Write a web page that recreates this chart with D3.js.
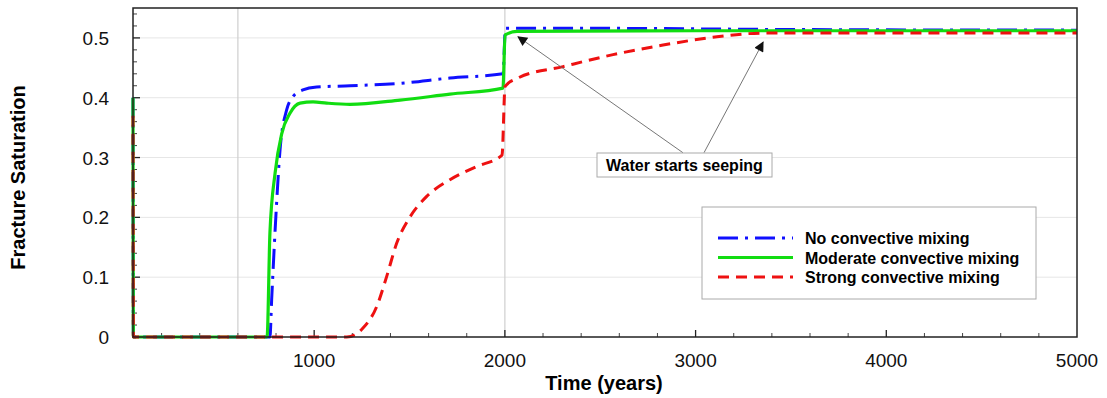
<!DOCTYPE html>
<html>
<head>
<meta charset="utf-8">
<script src="https://cdn.jsdelivr.net/npm/d3@7"></script>
<style>
  body { margin: 0; background: #fff; }
  svg { display: block; font-family: "Liberation Sans", Arial, sans-serif; }
</style>
</head>
<body>
<div id="plot"></div>
<script>
// Data: time (years) and fracture saturation
const noMixT  = [50, 52, 768, 777, 804, 821, 856, 889, 941, 1013, 1188, 1450, 1712, 1990, 2003, 2500, 3500, 5000];
const noMixS  = [0.40, 0, 0, 0.062, 0.229, 0.313, 0.38, 0.402, 0.413, 0.418, 0.42, 0.424, 0.433, 0.44, 0.516, 0.516, 0.514, 0.513];

const modMixT = [50, 52, 753, 768, 795, 830, 873, 926, 994, 1066, 1188, 1450, 1712, 1990, 2001, 2064, 3000, 5000];
const modMixS = [0.40, 0, 0, 0.174, 0.274, 0.34, 0.374, 0.391, 0.393, 0.391, 0.389, 0.396, 0.406, 0.416, 0.505, 0.511, 0.512, 0.512];

const strMixT = [50, 52, 1171, 1256, 1328, 1380, 1433, 1503, 1590, 1712, 1852, 1985, 2001, 2069, 2305, 2567, 2829, 3091, 3354, 3600, 5000];
const strMixS = [0.37, 0, 0, 0.015, 0.051, 0.101, 0.157, 0.201, 0.235, 0.263, 0.285, 0.304, 0.419, 0.433, 0.452, 0.472, 0.488, 0.501, 0.508, 0.508, 0.508];

const seriesNames = ["No convective mixing", "Moderate convective mixing", "Strong convective mixing"];
const xTickValues = [1000, 2000, 3000, 4000, 5000];
const yTickValues = [0, 0.1, 0.2, 0.3, 0.4, 0.5];
const xGridValues = [600, 2000];

// annotation: arrow tips and tails (time, saturation)
const arrowTips  = [[2069, 0.502], [3354, 0.493]];
const arrowTails = [[2934, 0.308], [3044, 0.308]];
const noteText = "Water starts seeping";

const width = 1107, height = 398;
const margin = {left: 133, top: 8, right: 30, bottom: 61};

const svg = d3.select("#plot").append("svg")
    .attr("width", width)
    .attr("height", height);

const x = d3.scaleLinear().domain([50, 5000]).range([margin.left, width - margin.right]);
const y = d3.scaleLinear().domain([0, 0.55]).range([height - margin.bottom, margin.top]);

const x0 = x.range()[0], x1 = x.range()[1], y0 = y.range()[0], y1 = y.range()[1];

// grid lines
svg.append("g").selectAll("line")
    .data(yTickValues.filter(d => d > 0))
    .join("line")
    .attr("x1", x0).attr("x2", x1)
    .attr("y1", d => y(d)).attr("y2", d => y(d))
    .attr("stroke", "#e6e6e6").attr("stroke-width", 1);

svg.append("g").selectAll("line")
    .data(xGridValues)
    .join("line")
    .attr("x1", d => x(d)).attr("x2", d => x(d))
    .attr("y1", y0).attr("y2", y1)
    .attr("stroke", "#cfcfcf").attr("stroke-width", 1.2);

// ticks (inward), major + minor
const minorX = d3.range(200, 5000, 200).filter(d => d % 1000 !== 0);
const minorY = d3.range(0.02, 0.55, 0.02).filter(d => Math.abs(d * 10 - Math.round(d * 10)) > 0.01);

svg.append("g").selectAll("line")
    .data(xTickValues.slice(0, -1))
    .join("line")
    .attr("x1", d => x(d)).attr("x2", d => x(d))
    .attr("y1", y0).attr("y2", y0 - 7)
    .attr("stroke", "#222").attr("stroke-width", 1.3);
svg.append("g").selectAll("line")
    .data(minorX)
    .join("line")
    .attr("x1", d => x(d)).attr("x2", d => x(d))
    .attr("y1", y0).attr("y2", y0 - 4)
    .attr("stroke", "#444").attr("stroke-width", 1);
svg.append("g").selectAll("line")
    .data(yTickValues.slice(1))
    .join("line")
    .attr("x1", x0).attr("x2", x0 + 7)
    .attr("y1", d => y(d)).attr("y2", d => y(d))
    .attr("stroke", "#222").attr("stroke-width", 1.3);
svg.append("g").selectAll("line")
    .data(minorY)
    .join("line")
    .attr("x1", x0).attr("x2", x0 + 4)
    .attr("y1", d => y(d)).attr("y2", d => y(d))
    .attr("stroke", "#444").attr("stroke-width", 1);

// tick labels
svg.append("g").selectAll("text")
    .data(xTickValues)
    .join("text")
    .attr("x", d => x(d))
    .attr("y", y0 + 30)
    .attr("text-anchor", "middle")
    .style("font-size", "19px")
    .attr("fill", "#111")
    .text(d => d);

svg.append("g").selectAll("text")
    .data(yTickValues)
    .join("text")
    .attr("x", x0 - 24)
    .attr("y", d => y(d) + 7)
    .attr("text-anchor", "end")
    .style("font-size", "19px")
    .attr("fill", "#111")
    .text(d => d === 0 ? "0" : d3.format(".1f")(d));

// axis titles
svg.append("text")
    .attr("x", 604)
    .attr("y", 390)
    .attr("text-anchor", "middle")
    .style("font-size", "20px")
    .style("font-weight", "bold")
    .text("Time (years)");

svg.append("text")
    .attr("transform", `translate(25, ${(y0 + y1) / 2 + 5}) rotate(-90)`)
    .attr("text-anchor", "middle")
    .style("font-size", "20px")
    .style("font-weight", "bold")
    .text("Fracture Saturation");

// series
const styles = [
    {color: "#1010ff", dash: "20,7,3,7", w: 3},
    {color: "#11dd11", dash: null, w: 3.2},
    {color: "#ee1111", dash: "11,7", w: 3}
];
const series = [
    d3.zip(noMixT, noMixS),
    d3.zip(modMixT, modMixS),
    d3.zip(strMixT, strMixS)
];

const line = d3.line()
    .x(d => x(d[0]))
    .y(d => y(d[1]))
    .curve(d3.curveMonotoneX);

series.forEach((s, i) => {
    svg.append("path")
        .datum(s)
        .attr("d", line)
        .attr("fill", "none")
        .attr("stroke", styles[i].color)
        .attr("stroke-width", styles[i].w)
        .attr("stroke-dasharray", styles[i].dash);
});

// frame
svg.append("rect")
    .attr("x", x0).attr("y", y1)
    .attr("width", x1 - x0).attr("height", y0 - y1)
    .attr("fill", "none")
    .attr("stroke", "#222")
    .attr("stroke-width", 1.5);

// annotation
svg.append("defs").append("marker")
    .attr("id", "arrow")
    .attr("viewBox", "0 0 10 10")
    .attr("refX", 9).attr("refY", 5)
    .attr("markerWidth", 14).attr("markerHeight", 10)
    .attr("markerUnits", "userSpaceOnUse")
    .attr("orient", "auto")
    .append("path")
    .attr("d", "M0,0 L10,5 L0,10 Z")
    .attr("fill", "#111");

arrowTips.forEach((tip, i) => {
    svg.append("line")
        .attr("x1", x(arrowTails[i][0])).attr("y1", y(arrowTails[i][1]))
        .attr("x2", x(tip[0])).attr("y2", y(tip[1]))
        .attr("stroke", "#666")
        .attr("stroke-width", 0.9)
        .attr("marker-end", "url(#arrow)");
});

svg.append("rect")
    .attr("x", 597).attr("y", 153)
    .attr("width", 175).attr("height", 24)
    .attr("fill", "#fff")
    .attr("stroke", "#aaa");
svg.append("text")
    .attr("x", 684.5).attr("y", 171)
    .attr("text-anchor", "middle")
    .style("font-size", "16px")
    .style("font-weight", "bold")
    .text(noteText);

// legend
const legend = svg.append("g");
legend.append("rect")
    .attr("x", 702).attr("y", 207)
    .attr("width", 334).attr("height", 92)
    .attr("fill", "#fff")
    .attr("stroke", "#aaa");
seriesNames.forEach((name, i) => {
    const ly = 238 + i * 19.5;
    legend.append("line")
        .attr("x1", 718).attr("x2", 793)
        .attr("y1", ly).attr("y2", ly)
        .attr("stroke", styles[i].color)
        .attr("stroke-width", styles[i].w)
        .attr("stroke-dasharray", styles[i].dash);
    legend.append("text")
        .attr("x", 805).attr("y", ly + 6)
        .style("font-size", "16px")
        .style("font-weight", "bold")
        .text(name);
});
</script>
</body>
</html>
